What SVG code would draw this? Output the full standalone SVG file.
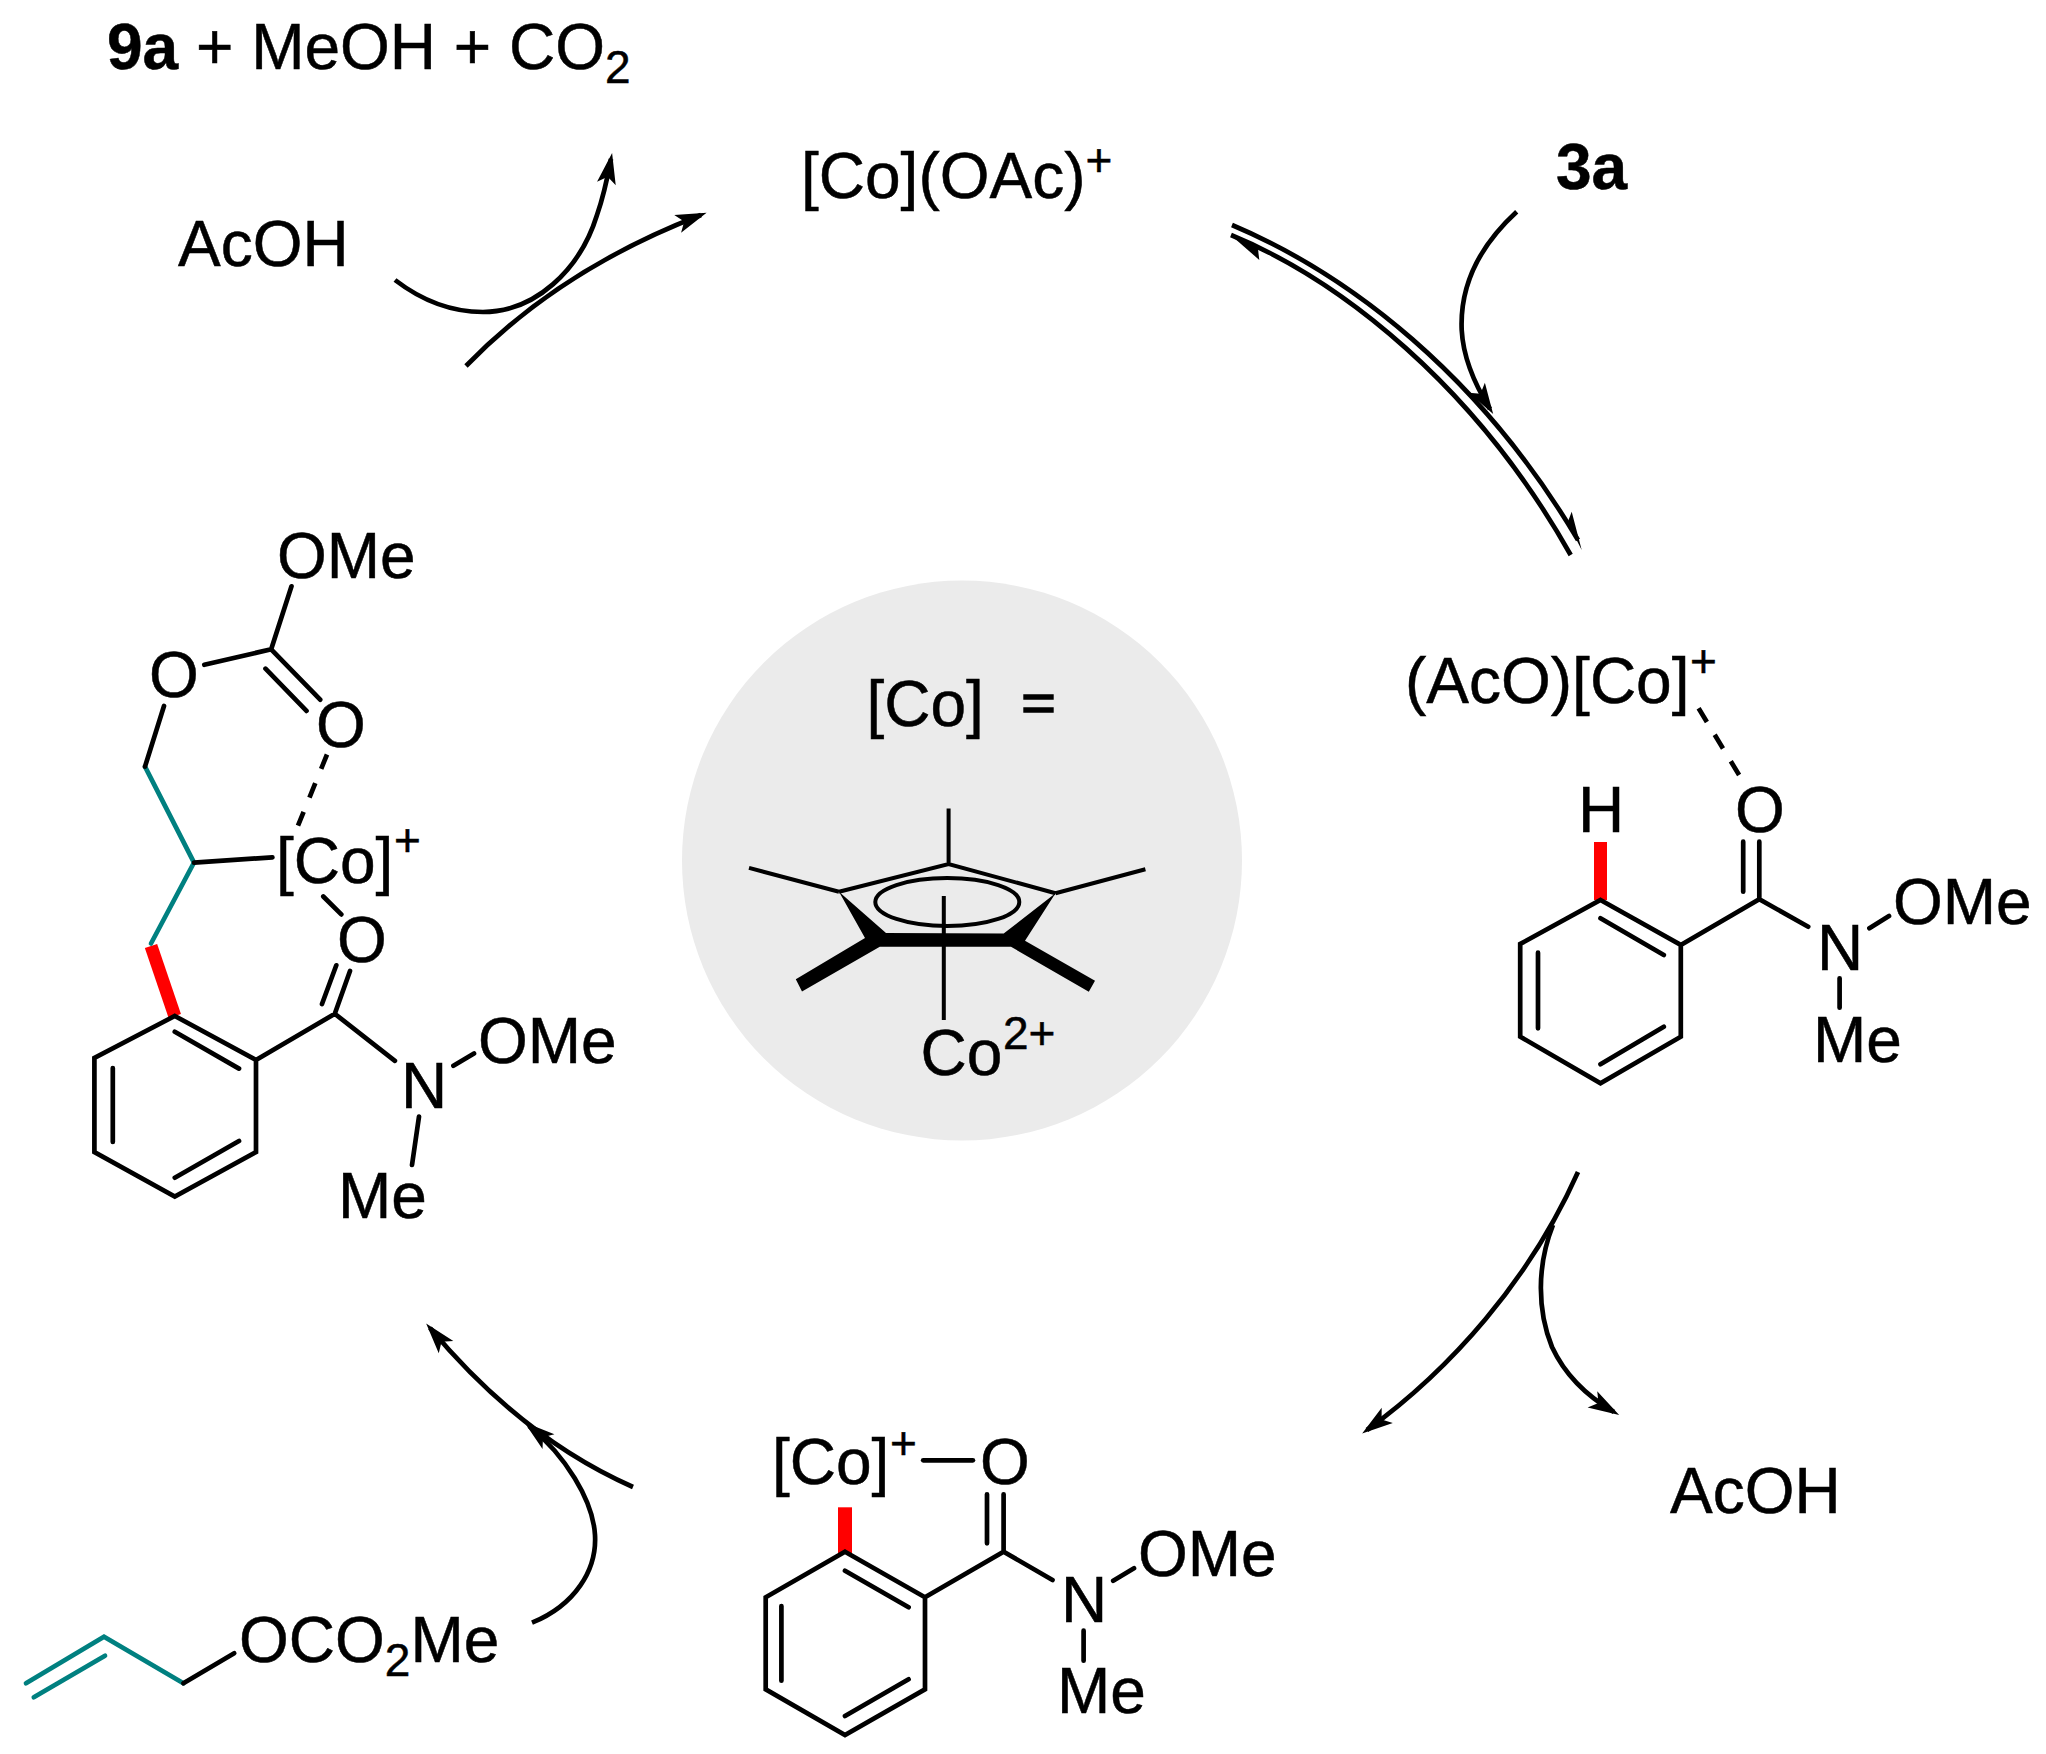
<svg xmlns="http://www.w3.org/2000/svg" width="2046" height="1754" viewBox="0 0 2046 1754">
<style>
text{font-family:"Liberation Sans",Arial,sans-serif;font-size:64px;fill:#000;stroke:#000;stroke-width:.5}
.sm{font-size:46px}
.b{font-weight:bold}
.bd{fill:none;stroke:#000;stroke-width:4.7;stroke-linecap:round;stroke-linejoin:miter}
.tl{stroke:#008080}
.rd{fill:none;stroke:#f00;stroke-width:13}
.ar{fill:none;stroke:#000;stroke-width:4.7}
.hd{fill:#000;stroke:none}
</style>
<defs>
<marker id="ah" markerUnits="userSpaceOnUse" markerWidth="50" markerHeight="30" refX="30" refY="15" orient="auto" overflow="visible">
<path d="M36 15 L5 5.5 L12 15 L5 24.5Z" fill="#000"/>
</marker>
</defs>
<rect width="2046" height="1754" fill="#fff"/>
<g id="center-circle">
<circle cx="962" cy="860.5" r="280" fill="#ebebeb"/>
<text x="866.5" y="726">[Co]</text>
<path d="M1023.3 697H1053.7M1023.3 710H1053.7" fill="none" stroke="#000" stroke-width="5.5"/>
<path class="bd" style="stroke-width:4;stroke-linecap:butt" d="M948.6 808.6V864M839 891.8L948.6 864L1055.5 893.2M749 867.9L839 891.8M1145.4 869.3L1055.5 893.2M943.8 896V1020"/>
<ellipse cx="947.3" cy="902" rx="72" ry="24" fill="none" stroke="#000" stroke-width="4"/>
<path class="hd" d="M839 891.8L865 938L795.8 979.3L802 991.4L879.8 946.8L1011 946.8L1088.8 991.8L1095 980.7L1025 940.7L1055.5 893.2L1003.7 933.6L886 933Z"/>
<text x="920.5" y="1075">Co</text>
<text class="sm" x="1003" y="1049">2+</text>
</g>
<g id="connectors">
<path class="ar" marker-end="url(#ah)" d="M466 366C530 300 610 250 701 215"/>
<path class="ar" marker-end="url(#ah)" d="M395 280C425 303 455 312 483 312C535 312 580 270 597 215C604 195 608 175 611 159"/>
<path class="ar" d="M1232 225C1350 275 1480 375 1578 540"/>
<path class="hd" d="M1581.7 550L1571.7 511.7L1567 524L1574 535Z"/>
<path class="ar" d="M1570.7 555C1475 385 1340 280 1231 235"/>
<path class="hd" d="M1230.7 235L1259.3 260L1258 249L1245 241Z"/>
<path class="ar" marker-end="url(#ah)" d="M1516.7 211.7C1475 250 1460 290 1461.7 330C1463 355 1472 380 1490 409"/>
<path class="ar" marker-end="url(#ah)" d="M1578 1172C1530 1280 1450 1370 1367 1430"/>
<path class="ar" marker-end="url(#ah)" d="M1553 1225C1537 1265 1537 1310 1552 1347C1565 1375 1585 1395 1614 1412"/>
<path class="ar" marker-end="url(#ah)" d="M633 1487Q522 1438 430 1328"/>
<path class="ar" marker-end="url(#ah)" d="M532 1622.7C575 1605 597 1570 595 1535C593 1500 565 1455 529 1426"/>
</g>
<g id="top-products">
<text x="107" y="69"><tspan class="b">9a</tspan> + MeOH + CO<tspan class="sm" dy="13.6">2</tspan></text>
</g>
<g id="acoh-top"><text x="178" y="265.5">AcOH</text></g>
<g id="co-oac"><text x="801" y="198">[Co](OAc)<tspan class="sm" dy="-22">+</tspan></text></g>
<g id="label-3a"><text class="b" x="1556" y="188.5">3a</text></g>
<g id="acoh-bottom"><text x="1670" y="1513">AcOH</text></g>
<g id="intermediate-right">
<text x="1405" y="703">(AcO)[Co]</text>
<text class="sm" x="1690" y="677">+</text>
<path class="bd" stroke-dasharray="16 15" style="stroke-linecap:butt" d="M1698.6 708.3L1743.2 781.7"/>
<text x="1735" y="832">O</text>
<text x="1578" y="832">H</text>
<path class="rd" d="M1600.5 842V900"/>
<path class="bd" d="M1600.5 900L1680.8 945V1036.7L1600.5 1083.3L1520.2 1036.7V944ZM1600.5 918.3L1663.8 955M1538 952.7V1028.3M1600.5 1064.3L1663.8 1026.7M1680.8 945L1759.3 899.3L1808.2 926.7M1759.3 841.7V899.3M1743.2 841.7V891.7M1869.4 928.3L1889 916M1839.6 978.3V1007.7"/>
<text x="1817" y="970">N</text>
<text x="1893" y="924">OMe</text>
<text x="1813" y="1061.7">Me</text>
</g>
<g id="intermediate-bottom">
<text x="772" y="1484">[Co]</text>
<text class="sm" x="890" y="1459">+</text>
<path class="bd" d="M923.2 1460.3H972.9"/>
<text x="980" y="1484">O</text>
<path class="rd" style="stroke-width:14" d="M845 1507.3V1553"/>
<path class="bd" d="M845 1551.7L925 1597.3V1689.3L845 1735L765.7 1689.3V1597.3ZM845 1570.7L908.6 1607.3M781.4 1606V1680.7M845 1716L908.6 1679.3M925 1597.3L1003.6 1551.7L1052.5 1580M1003.6 1494.3V1551.7M987 1494.3V1543.3M1113.2 1580.7L1134 1568.3M1083.6 1630.7V1660.7"/>
<text x="1061" y="1622">N</text>
<text x="1138" y="1576">OMe</text>
<text x="1057" y="1713">Me</text>
</g>
<g id="allyl-carbonate">
<path class="bd tl" d="M26 1683.3L104 1636.7L183.4 1683.3M33.8 1697.3L105 1655.7"/>
<path class="bd" d="M183.4 1683.3L234.2 1653.3"/>
<text x="239" y="1662">OCO<tspan class="sm" dy="13.6">2</tspan><tspan dy="-13.6">Me</tspan></text>
</g>
<g id="intermediate-left">
<text x="277" y="578">OMe</text>
<text x="149" y="697">O</text>
<text x="316" y="747">O</text>
<text x="276" y="883">[Co]</text>
<text class="sm" x="394" y="855.5">+</text>
<text x="337" y="962">O</text>
<text x="478" y="1063">OMe</text>
<text x="401" y="1108">N</text>
<text x="338" y="1218">Me</text>
<path class="rd" d="M151 946L174.8 1016"/>
<path class="bd tl" d="M145 766.6L194 862.6L151 943.5"/>
<path class="bd" d="M291.5 586.3L271.2 649.3L204.3 664.8M271.2 649.3L320.2 699.7M265.5 668.7L306.5 710.9M164 706L145 766.6M194 862.6L272.4 857.3M323.3 896.5L341.3 914.4"/>
<path class="bd" style="stroke-linecap:butt" stroke-dasharray="15.5 15.5" d="M327 754.5L298 825.7"/>
<path class="bd" d="M174.8 1016L256 1060V1152L174.8 1196.5L94.4 1152V1058ZM174.8 1031.7L239 1068.6M112.8 1068V1142M174.8 1177.7L239 1141M256 1060L334.8 1013.8L394.9 1060.8M334.8 1013.8L350 971M322 1004L336.3 965.3M453.4 1065.7L474 1053.5M419 1116.6L412 1165"/>
</g>
</svg>
